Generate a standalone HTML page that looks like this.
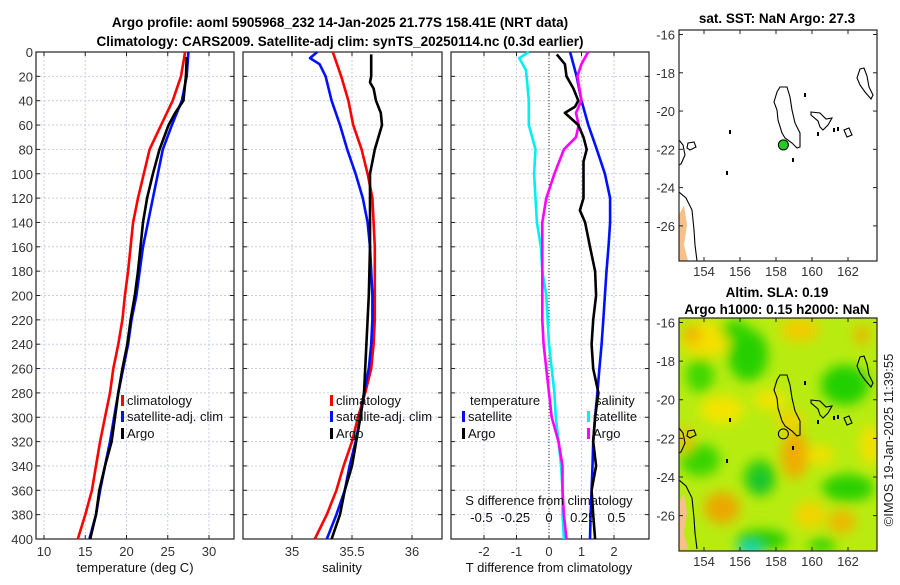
<!DOCTYPE html>
<html><head><meta charset="utf-8">
<style>
body{margin:0;background:#fff;}
svg text{font-family:"Liberation Sans","DejaVu Sans",sans-serif;}
</style></head>
<body>
<svg id="c" width="900" height="580" xmlns="http://www.w3.org/2000/svg">
<defs>
<clipPath id="m2clip"><rect x="679" y="318" width="198" height="233"/></clipPath>
<clipPath id="m1clip"><rect x="679" y="30" width="198" height="231"/></clipPath>
<filter id="bl" x="-50%" y="-50%" width="200%" height="200%"><feGaussianBlur stdDeviation="6"/></filter>
</defs>
<g font-weight="bold" font-size="13.5" text-anchor="middle" fill="#000">
<text x="340" y="27">Argo profile: aoml 5905968_232 14-Jan-2025 21.77S 158.41E (NRT data)</text>
<text x="340" y="46">Climatology: CARS2009. Satellite-adj clim: synTS_20250114.nc (0.3d earlier)</text>
<text x="777" y="23">sat. SST: NaN Argo: 27.3</text>
<text x="777" y="297">Altim. SLA: 0.19</text>
<text x="777" y="314">Argo h1000: 0.15 h2000: NaN</text>
</g>
<text x="893" y="440" font-size="13" fill="#222" text-anchor="middle" transform="rotate(-90 893 440)">©IMOS 19-Jan-2025 11:39:55</text>
<g id="plots"></g>
<g id="maps"></g>
</svg>
<script>
// ---- data ----
const depths=[0,20,40,60,80,100,120,140,160,180,200,220,240,260,280,300,320,340,360,380,400];
const tempClim=[27.1,26.6,25.6,24.2,22.8,22.1,21.4,20.8,20.5,20.2,19.8,19.5,19.0,18.4,18.0,17.4,16.8,16.3,15.8,15.0,14.1];
const tempSat=[27.5,27.3,26.7,25.5,24.4,23.8,23.2,22.6,22.0,21.6,21.2,20.6,20.2,19.6,19.0,18.5,18.0,17.4,16.8,16.3,15.5];
const argoDepths=[4,20,40,50,60,80,100,120,140,160,180,200,220,240,260,280,300,320,340,360,380,400];
const tempArgo=[27.3,27.2,26.9,25.9,25.1,24.0,23.2,22.5,22.0,21.7,21.4,21.0,20.5,20.1,19.5,19.0,18.6,18.2,17.4,16.7,16.3,15.6];
const salClim=[35.34,35.41,35.47,35.51,35.58,35.63,35.67,35.68,35.69,35.69,35.69,35.69,35.68,35.66,35.61,35.55,35.50,35.43,35.37,35.29,35.19];
const salSatDepths=[0,5,10,20,40,60,80,100,120,140,160,180,200,220,240,260,280,300,320,340,360,380,400];
const salSat=[35.21,35.15,35.23,35.28,35.33,35.40,35.46,35.53,35.59,35.63,35.65,35.66,35.67,35.67,35.66,35.64,35.60,35.57,35.53,35.48,35.44,35.37,35.29];
const salArgoDepths=[2,20,25,30,40,50,60,70,80,90,100,120,160,200,240,280,300,340,360,380,400];
const salArgo=[35.66,35.66,35.65,35.68,35.70,35.74,35.75,35.72,35.69,35.67,35.65,35.65,35.65,35.64,35.62,35.60,35.57,35.50,35.44,35.40,35.33];
const dTempSat=[0.65,0.85,1.0,1.21,1.47,1.72,1.88,1.88,1.83,1.77,1.72,1.67,1.62,1.55,1.49,1.42,1.36,1.34,1.31,1.28,1.26];
const dArgoDepths=[2,10,20,30,40,45,50,60,70,80,90,100,120,130,140,160,180,200,220,240,260,280,300,320,340,360,380,400];
const dTempArgo=[0.24,0.49,0.54,0.75,0.9,0.8,0.49,0.9,1.06,1.16,1.06,1.06,1.06,0.95,1.11,1.26,1.42,1.45,1.36,1.31,1.36,1.52,1.42,1.36,1.45,1.31,1.36,1.42];
const dSalDepths=[0,5,15,40,60,80,100,120,140,160,180,200,220,240,260,280,300,320,340,360,380,400];
const dSalSat=[-0.15,-0.22,-0.17,-0.15,-0.15,-0.10,-0.11,-0.10,-0.09,-0.06,-0.05,-0.02,-0.01,0.0,0.02,0.04,0.05,0.07,0.09,0.1,0.1,0.11];
const dSalArgoDepths=[0,10,20,40,50,60,70,80,100,120,140,160,180,200,220,240,260,280,300,320,340,360,380,400];
const dSalArgo=[0.29,0.24,0.21,0.24,0.20,0.22,0.20,0.11,0.04,-0.02,-0.05,-0.05,-0.05,-0.05,-0.05,-0.04,-0.02,0.0,0.02,0.07,0.1,0.1,0.11,0.13];
const depthTicks=[0,20,40,60,80,100,120,140,160,180,200,220,240,260,280,300,320,340,360,380,400];
const tempTicks=[10,15,20,25,30];
const salTicks=[35,35.5,36];
const dTTicks=[-2,-1,0,1,2];
const dSTicks=[-0.5,-0.25,0,0.25,0.5];
const dSTickLabels=["-0.5","-0.25","0","0.25","0.5"];
const lonTicks=[154,156,158,160,162];
const latTicks=[-16,-18,-20,-22,-24,-26];
const argoLon=158.41, argoLat=-21.77;

const NS="http://www.w3.org/2000/svg";
function mk(tag,attrs,parent){const e=document.createElementNS(NS,tag);for(const k in attrs)e.setAttribute(k,attrs[k]);parent.appendChild(e);return e;}
const plots=document.getElementById('plots');
const TOP=52,BOT=539;
const y=d=>TOP+(BOT-TOP)*d/400;
const xT=v=>44+(v-10)*8.25;
const xS=v=>292+(v-35)*120;
const xD=v=>549+v*32.5;
const xDS=v=>549+v*135;
const panels=[{l:36,r:234,name:'temperature'},{l:243,r:442,name:'salinity'},{l:451,r:649,name:'difference'}];

function gridAndAxes(p,xf,ticks,labels,labelsShown){
  const g=mk('g',{},plots);
  
  
  depthTicks.forEach(d=>{
    mk('line',{x1:p.l,x2:p.r,y1:y(d),y2:y(d),stroke:'#c6cde6','stroke-width':1,'stroke-dasharray':'2,2'},g);
    mk('line',{x1:p.l,x2:p.l+4,y1:y(d),y2:y(d),stroke:'#222'},g);
    mk('line',{x1:p.r-4,x2:p.r,y1:y(d),y2:y(d),stroke:'#222'},g);
    if(labelsShown){const t=mk('text',{x:p.l-3,y:y(d)+5,'font-size':13,'text-anchor':'end',fill:'#333'},g);t.textContent=d;}
  });
  ticks.forEach((v,i)=>{
    const x=xf(v);
    mk('line',{x1:x,x2:x,y1:TOP,y2:BOT,stroke:'#c6cde6','stroke-width':1,'stroke-dasharray':'2,2'},g);
    mk('line',{x1:x,x2:x,y1:BOT-4,y2:BOT,stroke:'#222'},g);
    mk('line',{x1:x,x2:x,y1:TOP,y2:TOP+4,stroke:'#222'},g);
    const t=mk('text',{x:x,y:BOT+17,'font-size':13,'text-anchor':'middle',fill:'#333'},g);t.textContent=labels[i];
  });
  mk('rect',{x:p.l,y:TOP,width:p.r-p.l,height:BOT-TOP,fill:'none',stroke:'#222','stroke-width':1.2},g);
}
gridAndAxes(panels[0],xT,tempTicks,tempTicks,true);
gridAndAxes(panels[1],xS,salTicks,salTicks,false);
gridAndAxes(panels[2],xD,dTTicks,dTTicks,false);
mk('line',{x1:xD(0),x2:xD(0),y1:TOP,y2:BOT,stroke:'#333','stroke-dasharray':'1,2'},plots);

function series(name,ds,vs,xf,color){
  const pts=ds.map((d,i)=>xf(vs[i]).toFixed(1)+','+y(d).toFixed(1)).join(' ');
  const pl=mk('polyline',{points:pts,fill:'none',stroke:color,'stroke-width':2.6,'stroke-linejoin':'round'},plots);
  
  
}
series('temp-climatology-line',depths,tempClim,xT,'#ff0000');
series('temp-satellite-line',depths,tempSat,xT,'#0010ff');
series('temp-argo-line',argoDepths,tempArgo,xT,'#000');
series('sal-climatology-line',depths,salClim,xS,'#ff0000');
series('sal-satellite-line',salSatDepths,salSat,xS,'#0010ff');
series('sal-argo-line',salArgoDepths,salArgo,xS,'#000');
series('dsal-satellite-line',dSalDepths,dSalSat,xDS,'#00f0f0');
series('dtemp-satellite-line',depths,dTempSat,xD,'#0010ff');
series('dsal-argo-line',dSalArgoDepths,dSalArgo,xDS,'#ff00ff');
series('dtemp-argo-line',dArgoDepths,dTempArgo,xD,'#000');

function txt(x,yy,s,name,anchor,size){const t=mk('text',{x:x,y:yy,'font-size':size||13,'text-anchor':anchor||'start',fill:'#111'},plots);t.textContent=s;return t;}
function legend(x,yy,color,label,name){
  const g=mk('g',{},plots);
  
  
  mk('rect',{x:x,y:yy-10,width:3,height:11,fill:color},g);
  const t=mk('text',{x:x+6,y:yy,'font-size':13,fill:'#111'},g);t.textContent=label;
}
legend(121,405,'#ff0000','climatology','legend-entry-climatology');
legend(121,421,'#0010ff','satellite-adj. clim','legend-entry-satellite');
legend(121,438,'#000','Argo','legend-entry-argo');
legend(330,405,'#ff0000','climatology','legend-entry-sal-climatology');
legend(330,421,'#0010ff','satellite-adj. clim','legend-entry-sal-satellite');
legend(330,438,'#000','Argo','legend-entry-sal-argo');
txt(470,405,'temperature','legend-title-temperature');
legend(462,421,'#0010ff','satellite','legend-entry-dtemp-satellite');
legend(462,438,'#000','Argo','legend-entry-dtemp-argo');
txt(595,405,'salinity','legend-title-salinity');
legend(587,421,'#00f0f0','satellite','legend-entry-dsal-satellite');
legend(587,438,'#ff00ff','Argo','legend-entry-dsal-argo');
txt(549,505,'S difference from climatology','s-diff-axis-title','middle');
dSTicks.forEach((v,i)=>txt(xDS(v),522,dSTickLabels[i],'s-diff-tick','middle'));
txt(135,572,'temperature (deg C)','x-axis-title-temperature','middle');
txt(342,572,'salinity','x-axis-title-salinity','middle');
txt(549,572,'T difference from climatology','x-axis-title-tdiff','middle');

// ---- maps ----
const maps=document.getElementById('maps');
const coastMain=[[780,87],[787,87],[790,97],[792,110],[795,123],[800,133],[800,147],[797,148],[792,143],[785,138],[782,133],[778,120],[777,110],[774,102],[777,92],[780,87]];
const coastLoy=[[811,112],[820,113],[826,119],[832,118],[828,125],[823,130],[820,127],[818,121],[811,115],[811,112]];
const coastVan=[[860,69],[864,68],[867,76],[869,87],[873,95],[871,99],[865,92],[860,85],[857,78],[860,69]];
const coastIsl=[[688,143],[694,142],[696,147],[690,150],[687,148],[688,143]];
const coastIsl2=[[844,130],[849,128],[852,135],[847,137],[844,130]];
const coastLeft=[[679,140],[683,145],[685,155],[681,164],[679,165]];
const coastAus=[[679,192],[686,198],[692,210],[694,230],[695,245],[697,261]];
const landAus=[[679,215],[684,205],[687,225],[684,245],[688,261],[679,261]];
function drawMap(oy,top,bot,withField,name){
  const g=mk('g',{},maps);
  
  
  const clip=withField?'url(#m2clip)':'url(#m1clip)';
  const inner=mk('g',{'clip-path':clip},g);
  if(withField){
    mk('rect',{x:679,y:318,width:198,height:233,fill:'#b8ec10'},inner);
    const f=mk('g',{filter:'url(#bl)'},inner);
    const blobs=[
      ['#f4e000',705,340,24,18],['#f0b400',692,335,9,10],['#28d000',748,355,20,26],['#30d400',735,330,14,10],['#40d800',700,375,14,18],
      ['#f4e400',722,410,22,14],['#20d000',845,385,24,20],['#f0cc00',800,330,20,12],['#e8b800',862,335,8,10],
      ['#38d400',700,460,20,16],['#28cc10',760,478,16,18],['#10c040',760,482,7,8],['#f0ac00',795,455,14,24],
      ['#f4d000',790,420,14,10],['#eca800',722,508,18,16],['#2cd000',848,488,26,14],['#eeb800',842,522,14,12],
      ['#f2d400',810,515,16,14],['#28cc00',762,540,26,10],['#10d8c8',750,550,12,7],['#30d000',822,545,14,7],
      ['#f4e000',870,445,10,20],['#ecc000',686,440,7,14],['#f4e200',770,400,16,10],['#f0e000',820,455,14,10]];
    blobs.forEach(b=>mk('ellipse',{cx:b[1],cy:b[2],rx:b[3],ry:b[4],fill:b[0]},f));
  }
  const c=mk('g',{transform:'translate(0,'+oy+')'},inner);
  mk('polygon',{points:landAus.map(p=>p.join(',')).join(' '),fill:'#f5c08a'},c);
  [coastMain,coastLoy,coastVan,coastIsl,coastIsl2].forEach(s=>mk('polygon',{points:s.map(p=>p.join(',')).join(' '),fill:'none',stroke:'#000','stroke-width':1.1},c));
  [coastLeft,coastAus].forEach(s=>mk('polyline',{points:s.map(p=>p.join(',')).join(' '),fill:'none',stroke:'#000','stroke-width':1.1},c));
  [[730,132],[727,173],[793,160],[805,95],[818,134],[834,130],[838,129]].forEach(p=>mk('rect',{x:p[0]-1,y:p[1]-2,width:2,height:4,fill:'#000'},c));
  const lx=v=>704+(v-154)*18;
  const ly=v=>top+4.5+(-16-v)*((bot-top-9)/11.6);
  const dot=mk('circle',{cx:lx(argoLon),cy:ly(argoLat),r:5,fill:withField?'none':'#22cc22',stroke:'#000','stroke-width':1},g);
  
  
  mk('rect',{x:679,y:top,width:198,height:bot-top,fill:'none',stroke:'#222','stroke-width':1.2},g);
  lonTicks.forEach(v=>{const x=lx(v);mk('line',{x1:x,x2:x,y1:bot-4,y2:bot,stroke:'#222'},g);mk('line',{x1:x,x2:x,y1:top,y2:top+4,stroke:'#222'},g);
    const t=mk('text',{x:x,y:bot+15,'font-size':13,'text-anchor':'middle',fill:'#333'},g);t.textContent=v;});
  latTicks.forEach(v=>{const yy=ly(v);mk('line',{x1:679,x2:683,y1:yy,y2:yy,stroke:'#222'},g);mk('line',{x1:873,x2:877,y1:yy,y2:yy,stroke:'#222'},g);
    const t=mk('text',{x:675,y:yy+5,'font-size':13,'text-anchor':'end',fill:'#333'},g);t.textContent=v;});
}
drawMap(0,30,261,false,'sst-map');
drawMap(288,318,551,true,'sla-map');
</script>
</body></html>
